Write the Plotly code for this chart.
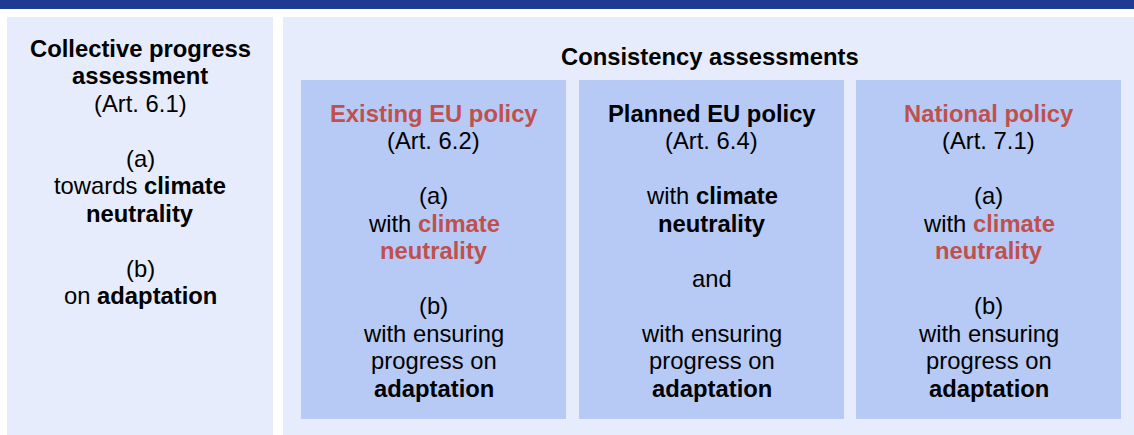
import plotly.graph_objects as go

# ---- content (text lines) ----
RED = "#C0504D"
def red(t):
    return f"<span style='color:{RED}'><b>{t}</b></span>"

left_lines = ["<b>Collective progress</b>", "<b>assessment</b>", "(Art. 6.1)", "",
              "(a)", "towards <b>climate</b>", "<b>neutrality</b>", "",
              "(b)", "on <b>adaptation</b>"]
header_text = "<b>Consistency assessments</b>"
box_titles = [red("Existing EU policy"), "<b>Planned EU policy</b>", red("National policy")]
box_articles = ["(Art. 6.2)", "(Art. 6.4)", "(Art. 7.1)"]
existing_lines = ["", "(a)", "with " + red("climate"), red("neutrality"), "",
                  "(b)", "with ensuring", "progress on", "<b>adaptation</b>"]
planned_lines = ["", "with <b>climate</b>", "<b>neutrality</b>", "",
                 "and", "", "with ensuring", "progress on", "<b>adaptation</b>"]
national_lines = ["", "(a)", "with " + red("climate"), red("neutrality"), "",
                  "(b)", "with ensuring", "progress on", "<b>adaptation</b>"]

# ---- layout / style ----
W, H = 1134, 435
DARK = "#1F3A93"
LIGHT = "#E6ECFB"
BOX = "#B7CAF5"
FONT = "Liberation Sans, Arial, sans-serif"
FS = 23.8
LH = 27.5

fig = go.Figure()
fig.add_trace(go.Scatter(x=[0, W], y=[0, H], mode="markers",
                         marker=dict(opacity=0), hoverinfo="skip", showlegend=False))

shapes = [
    dict(type="rect", x0=0, x1=W, y0=0, y1=9, fillcolor=DARK, line_width=0, layer="below"),
    dict(type="rect", x0=7, x1=273, y0=17, y1=H, fillcolor=LIGHT, line_width=0, layer="below"),
    dict(type="rect", x0=283, x1=W, y0=17, y1=H, fillcolor=LIGHT, line_width=0, layer="below"),
]
box_x = [(301, 566), (579, 844), (856, 1121)]
for x0, x1 in box_x:
    shapes.append(dict(type="rect", x0=x0, x1=x1, y0=80, y1=419,
                       fillcolor=BOX, line_width=0, layer="below"))

annotations = []
def add_line(text, cx, baseline):
    if not text:
        return
    annotations.append(dict(x=cx, y=baseline - 0.35 * FS, xref="x", yref="y",
                            text=text, showarrow=False, xanchor="center", yanchor="middle",
                            font=dict(family=FONT, size=FS, color="#000000")))

for i, t in enumerate(left_lines):
    add_line(t, 140, 56.7 + i * LH)

add_line(header_text, 710, 65)

box_bodies = [existing_lines, planned_lines, national_lines]
for (x0, x1), title, art, body in zip(box_x, box_titles, box_articles, box_bodies):
    cx = (x0 + x1) / 2
    lines = [title, art] + body
    for i, t in enumerate(lines):
        add_line(t, cx, 121.7 + i * LH)

fig.update_layout(
    width=W, height=H, margin=dict(l=0, r=0, t=0, b=0),
    paper_bgcolor="white", plot_bgcolor="white",
    xaxis=dict(range=[0, W], visible=False, fixedrange=True),
    yaxis=dict(range=[H, 0], visible=False, fixedrange=True),
    shapes=shapes, annotations=annotations,
)
fig.write_html("out.html", config={"displayModeBar": False},
               post_script="document.body.style.margin='0';document.body.style.overflow='hidden';")
